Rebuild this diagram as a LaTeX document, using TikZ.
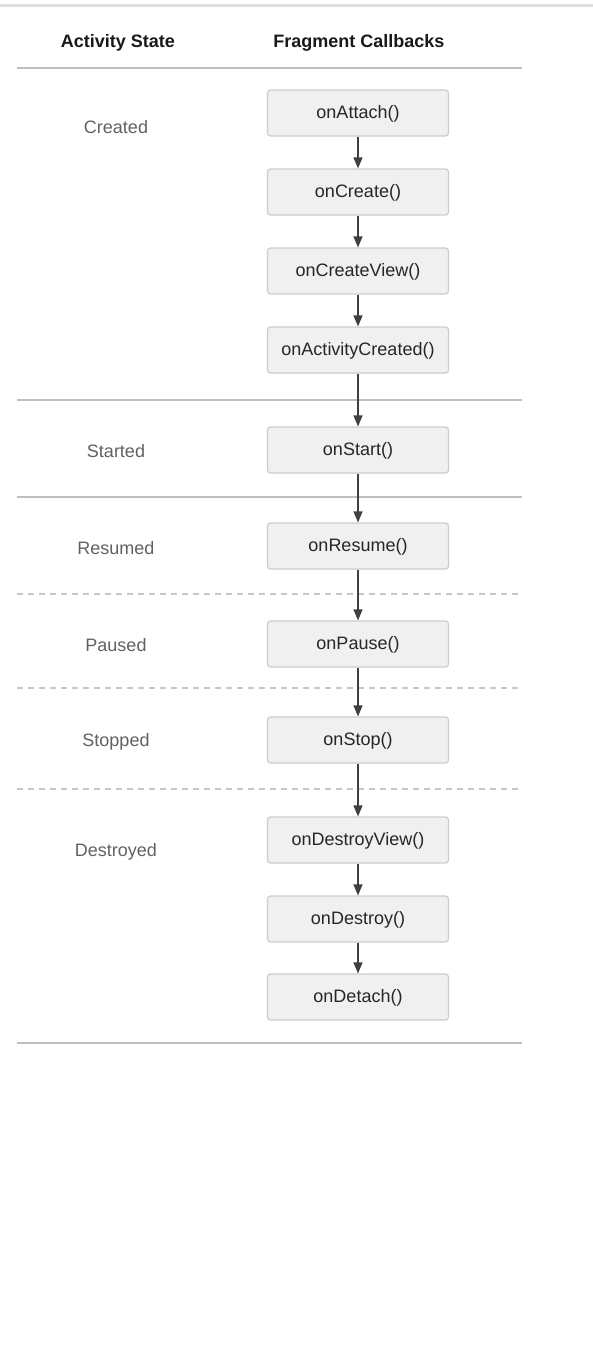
\documentclass[tikz,border=0pt]{standalone}
\usepackage{fontspec}
\setmainfont{Liberation Sans}
\usetikzlibrary{arrows.meta}

\begin{document}
\begin{tikzpicture}[x=1pt,y=-1pt,
        callback/.style={draw=black!20,fill=black!6,rounded corners=3pt,line width=1.2pt,minimum width=181pt,minimum height=46pt,text height=13pt,text depth=3pt,text=black!85,font=\fontsize{18}{20}\selectfont},
        state/.style={text=black!62,font=\fontsize{18}{20}\selectfont},
        head/.style={text=black!90,font=\bfseries\fontsize{18}{20}\selectfont},
        flow/.style={line width=1.3pt,black!75,-{Triangle[length=11pt,width=9pt]}}]
                \useasboundingbox (0,0) rectangle (593,1353);
                \draw[line width=3pt,black!13] (0,5) -- (593,5);
                \node[head] (hstate) at (118,43) {Activity State};
                \node[head] (hcall) at (359,43) {Fragment Callbacks};
                \draw[line width=2pt,black!25] (17,68) -- (522,68);
                % separators between the states
                \draw[line width=1.5pt,black!25] (17,400) -- (522,400);
                \draw[line width=1.5pt,black!25] (17,497) -- (522,497);
                \draw[line width=1.5pt,black!22,dash pattern=on 6pt off 5pt] (17,594) -- (522,594);
                \draw[line width=1.5pt,black!22,dash pattern=on 6pt off 5pt] (17,688) -- (522,688);
                \draw[line width=1.5pt,black!22,dash pattern=on 6pt off 5pt] (17,789) -- (522,789);
                \draw[line width=2pt,black!25] (17,1043) -- (522,1043);
                % activity states
                \node[state] (created) at (116,127) {Created};
                \node[state] (started) at (116,451) {Started};
                \node[state] (resumed) at (116,548) {Resumed};
                \node[state] (paused) at (116,645) {Paused};
                \node[state] (stopped) at (116,742) {Stopped};
                \node[state] (destroyed) at (116,852) {Destroyed};
                % fragment callbacks
                \node[callback] (attach) at (358,113) {onAttach()};
                \node[callback] (create) at (358,192) {onCreate()};
                \node[callback] (view) at (358,271) {onCreateView()};
                \node[callback] (actcreated) at (358,350) {onActivityCreated()};
                \node[callback] (start) at (358,450) {onStart()};
                \node[callback] (resume) at (358,546) {onResume()};
                \node[callback] (pause) at (358,644) {onPause()};
                \node[callback] (stop) at (358,740) {onStop()};
                \node[callback] (destroyview) at (358,840) {onDestroyView()};
                \node[callback] (destroy) at (358,919) {onDestroy()};
                \node[callback] (detach) at (358,997) {onDetach()};
                \draw[flow] (attach) -- (create);
                \draw[flow] (create) -- (view);
                \draw[flow] (view) -- (actcreated);
                \draw[flow] (actcreated) -- (start);
                \draw[flow] (start) -- (resume);
                \draw[flow] (resume) -- (pause);
                \draw[flow] (pause) -- (stop);
                \draw[flow] (stop) -- (destroyview);
                \draw[flow] (destroyview) -- (destroy);
                \draw[flow] (destroy) -- (detach);
            \end{tikzpicture}
\end{document}
